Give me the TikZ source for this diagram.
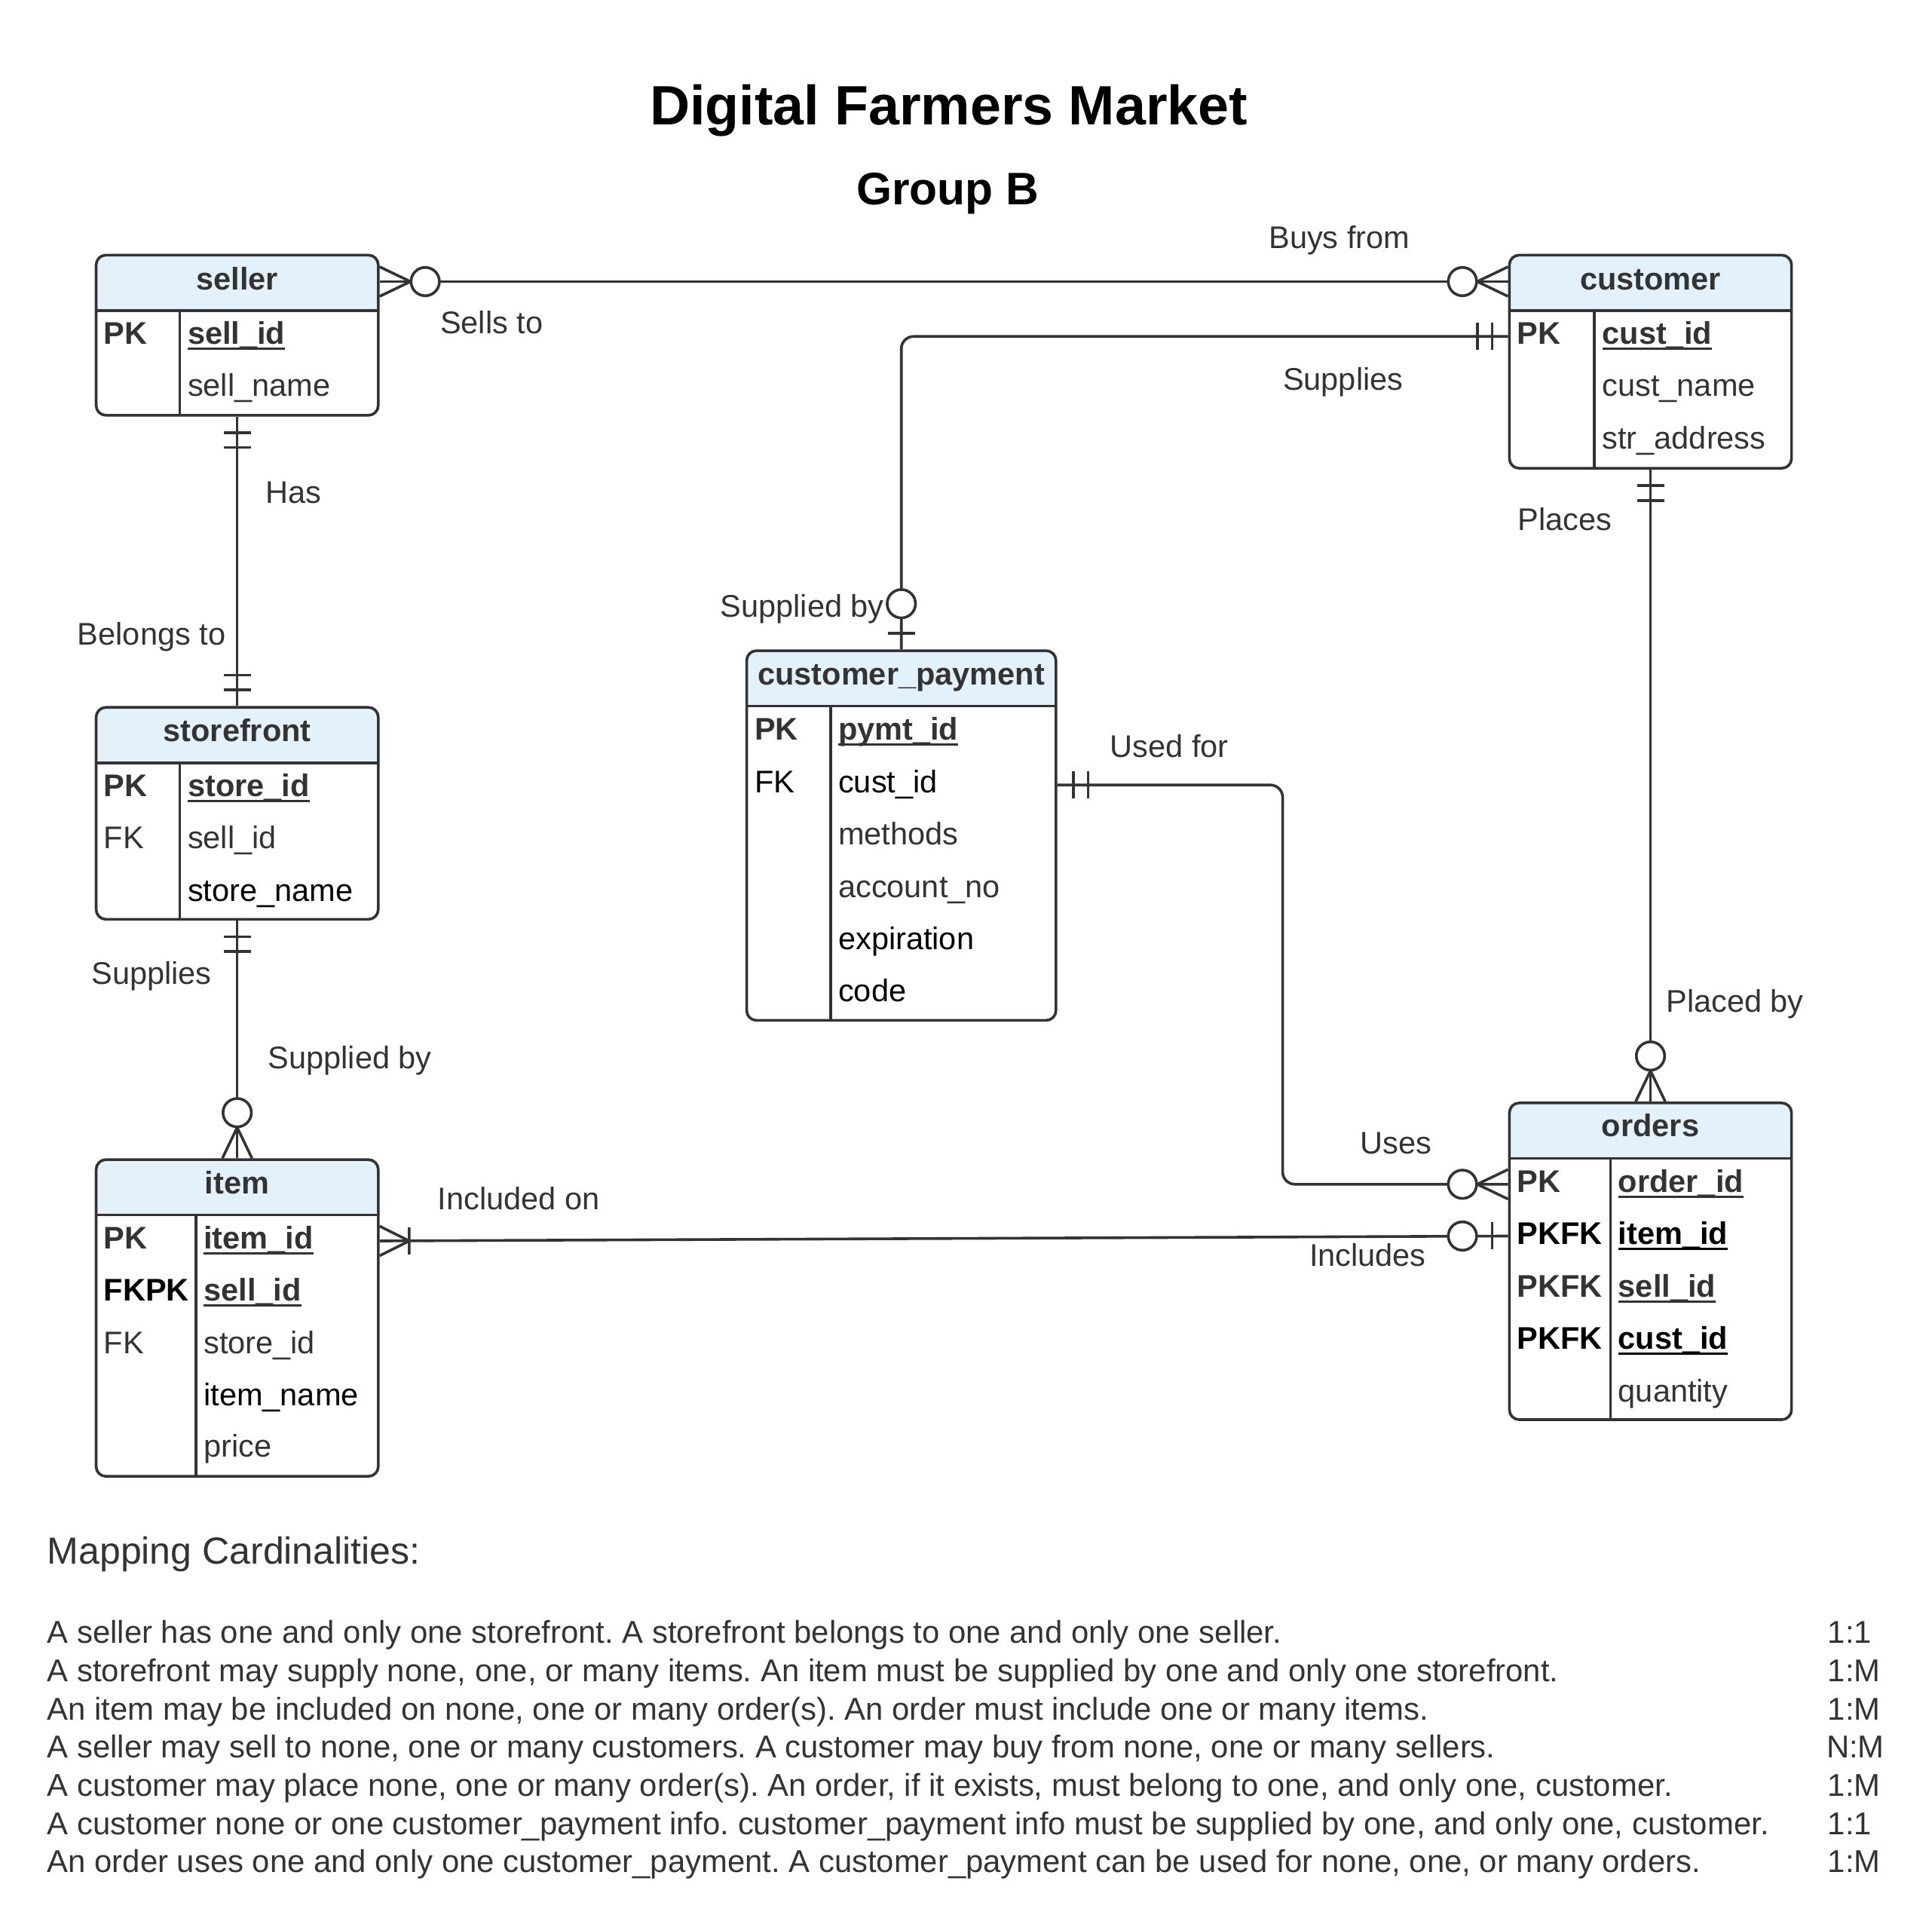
\documentclass[tikz,border=0pt]{standalone}
\usepackage{fontspec}
\setmainfont{Liberation Sans}
\usetikzlibrary{fit,calc}
\definecolor{ink}{HTML}{333333}
\definecolor{headblue}{RGB}{227,242,250}
\newcommand{\pkey}[1]{\setbox0\hbox{\textbf{#1}}\rlap{\rule[-2.3pt]{\wd0}{0.9pt}}\box0}
\frenchspacing

\begin{document}
\begin{tikzpicture}
	[x=0.5pt, y=-0.5pt,
	rel/.style = {draw=ink, line width=1.1pt},
	entity/.style = {rel, rounded corners=4pt, inner sep=0pt, path picture={\fill[headblue, sharp corners] (path picture bounding box.north west) rectangle ([yshift=-22.5pt]path picture bounding box.north east);}},
	txt/.style = {text=ink, inner sep=0pt, text height=9pt, text depth=2.5pt, font=\fontsize{12.7}{15}\selectfont},
	head/.style = {txt, font=\fontsize{12.7}{15}\selectfont\bfseries},
	row/.style = {txt, anchor=west},
	line/.style = {txt, anchor=west, font=\fontsize{12.8}{15}\selectfont},
	onlyone/.pic = {\draw[rel] (13,-11) -- (13,11) (25,-11) -- (25,11);},
	zeroone/.pic = {\draw[rel] (13,-11) -- (13,11); \draw[rel, fill=white] (37,0) circle[radius=11.5];},
	zeromany/.pic = {\draw[rel] (0,-12) -- (25,0) -- (0,12); \draw[rel, fill=white] (37,0) circle[radius=11.5];},
	onemany/.pic = {\draw[rel] (0,-12) -- (24,0) -- (0,12) (24,-11) -- (24,11);}]
	\useasboundingbox (0,0) rectangle (1568,1561);

	% title
	\node[inner sep=0pt, font=\fontsize{22.5}{27}\selectfont\bfseries] (title) at (770,90) {Digital Farmers Market};
	\node[inner sep=0pt, font=\fontsize{18.5}{22}\selectfont\bfseries] (group) at (769,157) {Group B};

	% seller
	\node[entity, fit={(78,207) (307,337)}] (seller) {};
	\draw[rel] (78,252) -- (307,252) (146,252) -- (146,337);
	\node[head] (seller-h) at (192.5,228.5) {seller};
	\node[row] (sell-pk) at (84,273) {\textbf{PK}};
	\node[row] (sell-id) at (152,273) {\pkey{sell\_id}};
	\node[row] (sell-name) at (152,315) {sell\_name};

	% customer
	\node[entity, fit={(1225,207) (1454,380)}] (customer) {};
	\draw[rel] (1225,252) -- (1454,252) (1294,252) -- (1294,380);
	\node[head] (customer-h) at (1339.5,228.5) {customer};
	\node[row] (cust-pk) at (1231,273) {\textbf{PK}};
	\node[row] (cust-id) at (1300,273) {\pkey{cust\_id}};
	\node[row] (cust-name) at (1300,315) {cust\_name};
	\node[row] (cust-addr) at (1300,358) {str\_address};

	% storefront
	\node[entity, fit={(78,574) (307,746)}] (store) {};
	\draw[rel] (78,619) -- (307,619) (146,619) -- (146,746);
	\node[head] (store-h) at (192.5,595) {storefront};
	\node[row] (store-pk) at (84,640) {\textbf{PK}};
	\node[row] (store-id) at (152,640) {\pkey{store\_id}};
	\node[row] (store-fk) at (84,682) {FK};
	\node[row] (store-sell) at (152,682) {sell\_id};
	\node[row, text=black] (store-name) at (152,725) {store\_name};

	% item
	\node[entity, fit={(78,941) (307,1198)}] (item) {};
	\draw[rel] (78,986) -- (307,986) (159,986) -- (159,1198);
	\node[head] (item-h) at (192.5,962) {item};
	\node[row] (item-pk) at (84,1007) {\textbf{PK}};
	\node[row] (item-id) at (165,1007) {\pkey{item\_id}};
	\node[row, text=black] (item-fkpk) at (84,1049) {\textbf{FKPK}};
	\node[row] (item-sell) at (165,1049) {\pkey{sell\_id}};
	\node[row] (item-fk) at (84,1092) {FK};
	\node[row] (item-store) at (165,1092) {store\_id};
	\node[row, text=black] (item-name) at (165,1134) {item\_name};
	\node[row] (item-price) at (165,1176) {price};

	% customer_payment
	\node[entity, fit={(606,528) (857,828)}] (cpay) {};
	\draw[rel] (606,573) -- (857,573) (674,573) -- (674,828);
	\node[head] (cpay-h) at (731.5,549) {customer\_payment};
	\node[row] (cp-pk) at (612,594) {\textbf{PK}};
	\node[row] (cp-id) at (680,594) {\pkey{pymt\_id}};
	\node[row, text=black] (cp-fk) at (612,637) {FK};
	\node[row, text=black] (cp-cust) at (680,637) {cust\_id};
	\node[row] (cp-meth) at (680,679) {methods};
	\node[row] (cp-acct) at (680,722) {account\_no};
	\node[row, text=black] (cp-exp) at (680,764) {expiration};
	\node[row, text=black] (cp-code) at (680,806) {code};

	% orders
	\node[entity, fit={(1225,895) (1454,1152)}] (orders) {};
	\draw[rel] (1225,940) -- (1454,940) (1307,940) -- (1307,1152);
	\node[head] (orders-h) at (1339.5,916) {orders};
	\node[row] (ord-pk) at (1231,961) {\textbf{PK}};
	\node[row] (ord-id) at (1313,961) {\pkey{order\_id}};
	\node[row, text=black] (ord-item) at (1231,1003) {\textbf{PKFK}};
	\node[row, text=black] (ord-itemid) at (1313,1003) {\pkey{item\_id}};
	\node[row] (ord-sell) at (1231,1046) {\textbf{PKFK}};
	\node[row] (ord-sellid) at (1313,1046) {\pkey{sell\_id}};
	\node[row, text=black] (ord-cust) at (1231,1088) {\textbf{PKFK}};
	\node[row, text=black] (ord-custid) at (1313,1088) {\pkey{cust\_id}};
	\node[row] (ord-qty) at (1313,1131) {quantity};

	% relationships
	\draw[rel] (seller-h -| seller.east) -- (customer-h -| customer.west);
	\pic at (seller-h -| seller.east) {zeromany};
	\pic[rotate=180] at (customer-h -| customer.west) {zeromany};

	\draw[rel, rounded corners=5pt] (customer.west |- cust-pk) -| (cpay.north);
	\pic[rotate=180] at (customer.west |- cust-pk) {onlyone};
	\pic[rotate=90] at (cpay.north) {zeroone};

	\draw[rel] (seller.south) -- (store.north);
	\pic[rotate=-90] at (seller.south) {onlyone};
	\pic[rotate=90] at (store.north) {onlyone};

	\draw[rel] (store.south) -- (item.north);
	\pic[rotate=-90] at (store.south) {onlyone};
	\pic[rotate=90] at (item.north) {zeromany};

	\draw[rel] (customer.south) -- (orders.north);
	\pic[rotate=-90] at (customer.south) {onlyone};
	\pic[rotate=90] at (orders.north) {zeromany};

	\draw[rel, rounded corners=5pt] (cpay.east |- cp-fk) -| ($(cpay.east)!0.5!(orders.west)$) |- (orders.west |- ord-pk);
	\pic at (cpay.east |- cp-fk) {onlyone};
	\pic[rotate=180] at (orders.west |- ord-pk) {zeromany};

	\draw[rel] (item.east |- item-pk) -- (orders.west |- ord-item);
	\pic at (item.east |- item-pk) {onemany};
	\pic[rotate=180] at (orders.west |- ord-item) {zeroone};

	% relationship labels
	\node[txt] (l-sells) at (399,264) {Sells to};
	\node[txt] (l-buys) at (1087,195) {Buys from};
	\node[txt] (l-supplies1) at (1090,310) {Supplies};
	\node[txt] (l-suppby1) at (651,494) {Supplied by};
	\node[txt] (l-has) at (238,402) {Has};
	\node[txt] (l-belongs) at (123,517) {Belongs to};
	\node[txt] (l-supplies2) at (123,792) {Supplies};
	\node[txt] (l-suppby2) at (284,861) {Supplied by};
	\node[txt] (l-places) at (1270,424) {Places};
	\node[txt] (l-placed) at (1408,815) {Placed by};
	\node[txt] (l-usedfor) at (949,608) {Used for};
	\node[txt] (l-uses) at (1133,930) {Uses};
	\node[txt] (l-incon) at (421,975) {Included on};
	\node[txt] (l-incl) at (1110,1021) {Includes};

	% mapping cardinalities
	\node[line, text height=, text depth=, font=\fontsize{15.3}{18}\selectfont] (m0) at (38,1261) {Mapping Cardinalities:};
	\node[line] (m1) at (38,1327) {A seller has one and only one storefront. A storefront belongs to one and only one seller.};
	\node[line] (m2) at (38,1358) {A storefront may supply none, one, or many items. An item must be supplied by one and only one storefront.};
	\node[line] (m3) at (38,1389) {An item may be included on none, one or many order(s). An order must include one or many items.};
	\node[line] (m4) at (38,1420) {A seller may sell to none, one or many customers. A customer may buy from none, one or many sellers.};
	\node[line] (m5) at (38,1451) {A customer may place none, one or many order(s). An order, if it exists, must belong to one, and only one, customer.};
	\node[line] (m6) at (38,1482) {A customer none or one customer\_payment info. customer\_payment info must be supplied by one, and only one, customer.};
	\node[line] (m7) at (38,1513) {An order uses one and only one customer\_payment. A customer\_payment can be used for none, one, or many orders.};
	\node[line] (r1) at (1483,1327) {1:1};
	\node[line] (r2) at (1483,1358) {1:M};
	\node[line] (r3) at (1483,1389) {1:M};
	\node[line] (r4) at (1482,1420) {N:M};
	\node[line] (r5) at (1483,1451) {1:M};
	\node[line] (r6) at (1483,1482) {1:1};
	\node[line] (r7) at (1483,1513) {1:M};
\end{tikzpicture}
\end{document}
